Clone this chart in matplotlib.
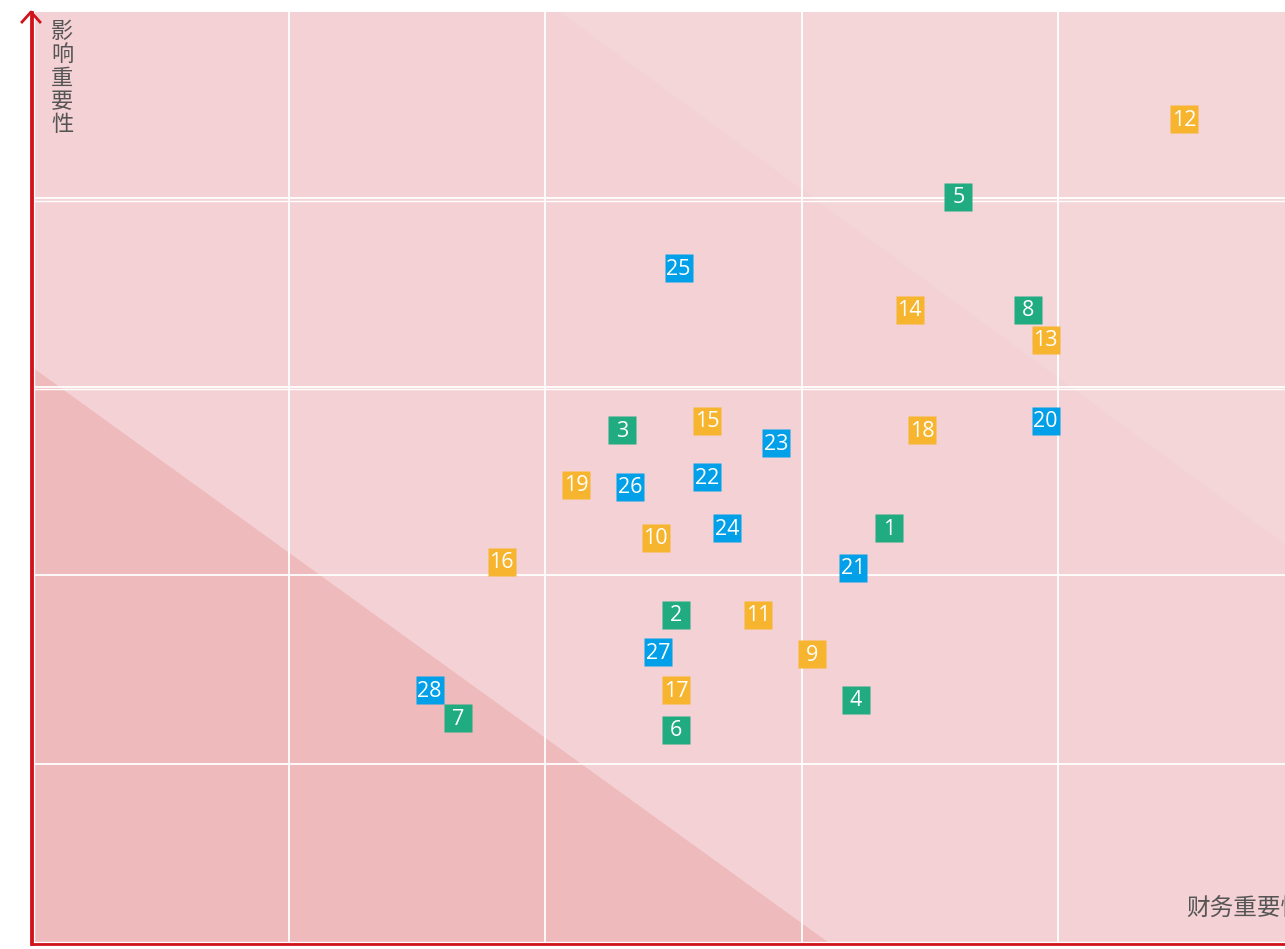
import numpy as np
import matplotlib
matplotlib.use("Agg")
import matplotlib.pyplot as plt

plt.rcParams['font.family'] = ['Noto Sans CJK SC', 'DejaVu Sans']

# Topic number, financial importance (x), impact importance (y)
ids = list(range(1, 29))
x_fin = [3.34, 2.51, 2.30, 3.21, 3.61, 2.51, 1.66, 3.88,
         3.04, 2.43, 2.83, 4.49, 3.95, 3.42, 2.63, 1.83, 2.51, 3.47, 2.12,
         3.95, 3.20, 2.63, 2.90, 2.71, 2.52, 2.33, 2.44, 1.55]
y_imp = [2.25, 1.79, 2.77, 1.34, 4.01, 1.18, 1.24, 3.41,
         1.58, 2.20, 1.79, 4.42, 3.25, 3.41, 2.82, 2.07, 1.39, 2.77, 2.48,
         2.82, 2.04, 2.52, 2.70, 2.25, 3.63, 2.47, 1.59, 1.39]
groups = ["env"] * 8 + ["soc"] * 11 + ["gov"] * 9

colors = {"env": "#21ab80", "soc": "#f7b42e", "gov": "#02a0e8"}

W, H = 1285, 949
fig = plt.figure(figsize=(W / 100, H / 100), dpi=100)
# plot area runs past the right edge of the picture (cropped chart)
ax = fig.add_axes([32 / W, 5 / H, (1315 - 32) / W, (944 - 12) / H])
ax.set_xlim(0, 5)
ax.set_ylim(0.042, 4.99)

ax.set_facecolor("#f3d1d4")
# lighter upper-right zone, darker lower-left zone
ax.fill([2.06, 5.2, 5.2], [4.99, 4.99, 1.85], color="#f5d6d8", zorder=0)
ax.fill([0, 0, 3.15, 0], [0, 3.10, 0, 0], color="#eebabc", zorder=0)

for gx in [1, 2, 3, 4]:
    ax.axvline(gx, color="white", lw=1.3, zorder=1)
for gy in [1, 2, 3, 4]:
    ax.axhline(gy, color="white", lw=1.3, zorder=1)
for gy in [3, 4]:
    ax.axhline(gy - 0.013, color="white", lw=1.0, zorder=1)
ax.axvline(0.006, color="white", lw=1.0, zorder=1)
ax.axhline(0.055, color="white", lw=1.0, zorder=1)

for i, xv, yv, g in zip(ids, x_fin, y_imp, groups):
    ax.plot(xv, yv, marker="s", ms=20.5, color=colors[g], mec="none", zorder=3)
    ax.text(xv, yv - 0.005, str(i), color="white", fontsize=15.5,
            family=["Open Sans", "DejaVu Sans"],
            ha="center", va="center", zorder=4)

for s in ["top", "right"]:
    ax.spines[s].set_visible(False)
for s in ["left", "bottom"]:
    ax.spines[s].set_color("#d0121b")
    ax.spines[s].set_linewidth(2)
ax.set_xticks([])
ax.set_yticks([])

# arrow head on the vertical axis
ax_x = 31 / W
fig.add_artist(plt.Line2D([22 / W, ax_x, 40 / W], [1 - 22 / H, 1 - 12 / H, 1 - 22 / H],
                          color="#d0121b", lw=2, transform=fig.transFigure))
fig.add_artist(plt.Line2D([ax_x, ax_x], [1 - 12 / H, 5 / H],
                          color="#d0121b", lw=2, transform=fig.transFigure))

ylab = "影\n响\n重\n要\n性"
fig.text(62 / W, 1 - 20 / H, ylab, fontsize=16, color="#555555",
         ha="center", va="top", linespacing=1.02)
fig.text(1186 / W, 1 - 909 / H, "财务重要性", fontsize=17, color="#555555",
         ha="left", va="center")

fig.savefig("out.png", dpi=100)
